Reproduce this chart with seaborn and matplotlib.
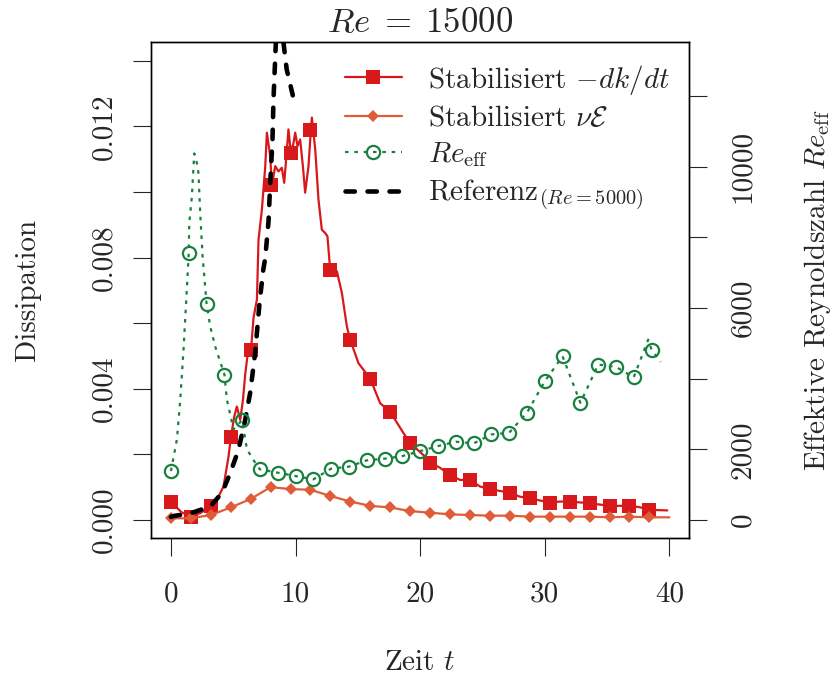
import matplotlib
matplotlib.use("Agg")
import matplotlib.pyplot as plt
from matplotlib.lines import Line2D
import seaborn as sns

# Stabilisiert -dk/dt (Linie, dicht)
t_rot = [0, 0.83, 1.6, 2.35, 3.2, 3.8, 4.22, 4.62, 4.81, 5.08,
         5.29, 5.56, 5.78, 5.96, 6.15, 6.42, 6.63, 6.9, 7.03, 7.3,
         7.57, 7.7, 7.97, 8.1, 8.37, 8.63, 8.9, 9.09, 9.31, 9.43,
         9.63, 9.84, 9.97, 10.16, 10.37, 10.59, 10.77, 11.04, 11.23, 11.31,
         11.58, 11.84, 12.11, 12.38, 12.56, 12.78, 13.32, 13.72, 14.12, 14.38,
         15.05, 15.99, 16.79, 17.6, 18.66, 19.2, 20.26, 20.8, 21.6, 22.4,
         23.2, 24.0, 24.8, 25.6, 27.2, 28.0, 28.8, 30.4, 31.2, 32.0,
         33.6, 35.2, 36.8, 37.6, 38.4, 39.84]
dkdt = [0.00056, 0.00024, 0.00010, 0.00021, 0.00041, 0.00070, 0.00102, 0.00193, 0.00252, 0.00315,
        0.00346, 0.00305, 0.00366, 0.00443, 0.00504, 0.00517, 0.00617, 0.00672, 0.00855, 0.00947,
        0.01079, 0.01181, 0.01109, 0.01020, 0.01079, 0.01063, 0.01074, 0.01028, 0.01130, 0.01191,
        0.01118, 0.01150, 0.01181, 0.01140, 0.01160, 0.01079, 0.00998, 0.01079, 0.01189, 0.01227,
        0.01130, 0.00977, 0.00885, 0.00875, 0.00865, 0.00763, 0.00758, 0.00692, 0.00590, 0.00550,
        0.00478, 0.00431, 0.00356, 0.00329, 0.00265, 0.00234, 0.00198, 0.00175, 0.00159, 0.00137,
        0.00122, 0.00122, 0.00102, 0.00094, 0.00083, 0.00071, 0.00066, 0.00053, 0.00056, 0.00056,
        0.00051, 0.00043, 0.00043, 0.00039, 0.00031, 0.00029]

# Marker (Quadrate / Rauten) alle 1.6 Zeiteinheiten
t_mark = [0, 1.6, 3.2, 4.8, 6.4, 8.0, 9.6, 11.2, 12.8, 14.4, 16.0, 17.6, 19.2,
          20.8, 22.4, 24.0, 25.6, 27.2, 28.8, 30.4, 32.0, 33.6, 35.2, 36.8, 38.4]
dkdt_mark = [0.00056, 0.00010, 0.00041, 0.00252, 0.00517, 0.01020, 0.01118, 0.01189, 0.00763,
             0.00550, 0.00431, 0.00329, 0.00234, 0.00175, 0.00137, 0.00122, 0.00094, 0.00083,
             0.00066, 0.00053, 0.00056, 0.00051, 0.00043, 0.00043, 0.00031]

# Stabilisiert nu*E
t_nue = t_mark + [40.0]
nue = [0.00005, 0.00005, 0.00015, 0.00038, 0.00064, 0.00100, 0.00094, 0.00092, 0.00073,
       0.00056, 0.00043, 0.00038, 0.00027, 0.00022, 0.00017, 0.00015, 0.00013, 0.00013,
       0.00010, 0.00010, 0.00010, 0.00010, 0.00008, 0.00010, 0.00008, 0.00008]

# Re_eff (rechte Achse)
t_re = [0, 0.48, 0.75, 1.01, 1.23, 1.43, 1.47, 1.68, 1.87, 2.09,
        2.21, 2.35, 2.54, 2.7, 2.86, 3.15, 3.55, 4.29, 4.49, 5.02,
        5.71, 6.1, 6.76, 7.14, 8.57, 10.0, 11.43, 12.86, 14.29, 15.71,
        17.14, 18.57, 20.0, 21.43, 22.86, 24.29, 25.71, 27.14, 28.57, 30.0,
        31.43, 32.86, 34.29, 35.71, 37.14, 38.3, 38.57, 39.31]
re_eff = [1384, 2280, 3410, 4822, 6235, 7554, 8401, 9153, 10379, 10097,
          9814, 8684, 7458, 6800, 6122, 5480, 4915, 4116, 3410, 2562,
          2825, 1997, 1622, 1432, 1339, 1243, 1150, 1452, 1509, 1687,
          1735, 1808, 1949, 2091, 2215, 2167, 2421, 2469, 3034, 3927,
          4633, 3317, 4399, 4334, 4040, 5105, 4822, 4475]
t_re_mark = [0, 1.43, 2.86, 4.29, 5.71, 7.14, 8.57, 10.0, 11.43, 12.86, 14.29, 15.71, 17.14, 18.57,
             20.0, 21.43, 22.86, 24.29, 25.71, 27.14, 28.57, 30.0, 31.43, 32.86, 34.29, 35.71,
             37.14, 38.57]
re_mark = [1384, 7554, 6122, 4116, 2825, 1432, 1339, 1243, 1150, 1452, 1509, 1687, 1735, 1808,
           1949, 2091, 2215, 2167, 2421, 2469, 3034, 3927, 4633, 3317, 4399, 4334, 4040, 4822]

# Referenz Re=5000
t_ref = [0, 0.21, 1.55, 3.15, 4.09, 4.76, 5.42, 5.96, 6.36, 6.76, 7.11,
         7.4, 7.57, 7.83, 7.97, 8.15, 8.23, 8.42, 8.73, 9.03, 9.29, 9.79]
ref = [0.00009, 0.00012, 0.00020, 0.00041, 0.00082, 0.00143, 0.00214, 0.00305, 0.00388,
       0.00510, 0.00662, 0.00760, 0.00800, 0.00910, 0.01028, 0.01160, 0.01282, 0.01456,
       0.01620, 0.01456, 0.01374, 0.01293]

x_ticks = [0, 10, 20, 30, 40]
y_ticks = [0, 0.002, 0.004, 0.006, 0.008, 0.010, 0.012, 0.014]
y_labels = ["0.000", "", "0.004", "", "0.008", "", "0.012", ""]
y2_ticks = [0, 2000, 4000, 6000, 8000, 10000, 12000]
y2_labels = ["0", "2000", "", "6000", "", "10000", ""]

ROT = "#D7191C"
ORANGE = "#DF5C38"
GRUEN = "#198040"
FS = 21

sns.set_style("ticks")
plt.rcParams["font.family"] = "serif"
plt.rcParams["font.serif"] = ["cmr10"]
plt.rcParams["mathtext.fontset"] = "cm"
plt.rcParams["axes.formatter.use_mathtext"] = True

fig = plt.figure(figsize=(8.34, 6.8), dpi=100)
ax = fig.add_axes([151 / 834, 1 - 538.3 / 680, 538.3 / 834, 495.8 / 680])

sns.lineplot(x=t_rot, y=dkdt, ax=ax, color=ROT, lw=1.6, sort=False, estimator=None)
sns.lineplot(x=t_mark, y=dkdt_mark, ax=ax, color=ROT, linestyle="", marker="s",
             markersize=10, markeredgewidth=0, markeredgecolor=ROT, sort=False, estimator=None)
sns.lineplot(x=t_nue, y=nue, ax=ax, color=ORANGE, lw=1.6, sort=False, estimator=None)
sns.lineplot(x=t_mark, y=nue[:-1], ax=ax, color=ORANGE, linestyle="", marker="D",
             markersize=6.3, markeredgewidth=0, markeredgecolor=ORANGE, sort=False, estimator=None)
sns.lineplot(x=t_ref, y=ref, ax=ax, color="black", lw=3.3, sort=False, estimator=None)
ax.lines[-1].set_dashes([2.05, 2.75])
ax.lines[-1].set_dash_capstyle("round")

ax2 = ax.twinx()
sns.lineplot(x=t_re, y=re_eff, ax=ax2, color=GRUEN, lw=1.6, sort=False, estimator=None)
ax2.lines[-1].set_dashes([1.6, 2.6])
sns.lineplot(x=t_re_mark, y=re_mark, ax=ax2, color=GRUEN, linestyle="", marker="o",
             markersize=9.5, markerfacecolor="none", markeredgecolor=GRUEN,
             markeredgewidth=1.6, sort=False, estimator=None)

ax.set_xlim(-1.6, 41.6)
ax.set_ylim(-0.00056, 0.01456)
ax2.set_ylim(-520, 13520)

ax.set_xticks(x_ticks)
ax.set_xticklabels([str(v) for v in x_ticks], fontsize=FS)
ax.set_yticks(y_ticks)
ax.set_yticklabels(y_labels, rotation=90, va="center", fontsize=FS)
ax2.set_yticks(y2_ticks)
ax2.set_yticklabels(y2_labels, rotation=90, va="center", fontsize=FS)

ax.tick_params(axis="x", direction="out", length=13, width=0.8, pad=18)
ax.tick_params(axis="y", direction="out", length=13, width=0.8, pad=11)
ax2.tick_params(axis="y", direction="out", length=13, width=0.8, pad=16)

for a in (ax, ax2):
    for s in a.spines.values():
        s.set_visible(True)
        s.set_linewidth(1.0)
        s.set_color("black")

ax.set_title(r"$Re\;=\;15000$", fontsize=25, pad=7.5)
ax.set_xlabel(r"Zeit $t$", fontsize=FS, va="center")
ax.xaxis.set_label_coords(0.5, -0.2515)
ax.set_ylabel("Dissipation", fontsize=FS, va="center")
ax.yaxis.set_label_coords(-0.2285, 0.5)
ax2.set_ylabel(r"Effektive Reynoldszahl $Re_{\mathrm{eff}}$", fontsize=FS, va="center")
ax2.yaxis.set_label_coords(1.239, 0.5)

handles = [
    Line2D([], [], color=ROT, lw=1.6, marker="s", ms=10, mew=0),
    Line2D([], [], color=ORANGE, lw=1.6, marker="D", ms=6.3, mew=0),
    Line2D([], [], color=GRUEN, lw=1.6, dashes=[1.6, 2.6], marker="o", ms=9.5,
           mfc="none", mec=GRUEN, mew=1.6),
    Line2D([], [], color="black", lw=3.3, dashes=[2.05, 2.75], dash_capstyle="round"),
]
labels = [r"Stabilisiert $-dk/dt$", r"Stabilisiert $\nu\mathcal{E}$",
          r"$Re_{\mathrm{eff}}$", r"Referenz$_{(Re=5000)}$"]
ax2.legend(handles, labels, loc="upper left", bbox_to_anchor=(0.4137, 0.908),
           bbox_transform=fig.transFigure, frameon=False, fontsize=FS,
           handlelength=1.95, handletextpad=0.9, labelspacing=0.3,
           borderpad=0, borderaxespad=0)

fig.savefig("out.png", dpi=100)
